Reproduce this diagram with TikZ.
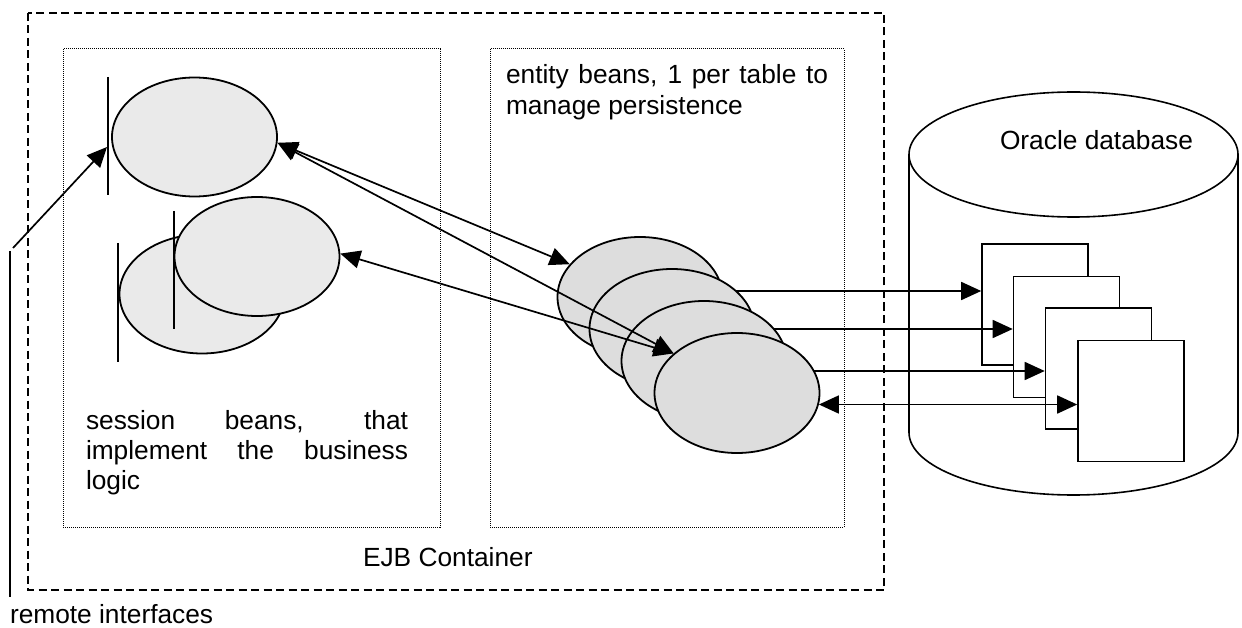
\documentclass[tikz,border=0pt]{standalone}
\usepackage{fontspec}
\setmainfont{Liberation Sans}
\usetikzlibrary{shapes.geometric,arrows.meta}

\definecolor{sessionfill}{HTML}{EAEAEA}
\definecolor{entityfill}{HTML}{DDDDDD}

\begin{document}
\begin{tikzpicture}[x=1pt,y=-1pt,
  lbl/.style={font=\fontsize{26.3}{30}\selectfont, anchor=base west, inner sep=0pt, outer sep=0pt},
  container/.style={draw, line width=1.8pt, dash pattern=on 8pt off 4.5pt},
  panel/.style={draw, line width=1pt, dash pattern=on 1pt off 1pt},
  sbean/.style={ellipse, draw, line width=1.8pt, fill=sessionfill,
                minimum width=165pt, minimum height=119pt, inner sep=0pt},
  ebean/.style={ellipse, draw, line width=1.8pt, fill=entityfill,
                minimum width=165pt, minimum height=120pt, inner sep=0pt},
  tablebox/.style={rectangle, draw, line width=1.6pt, fill=white,
                minimum width=106pt, minimum height=121pt, inner sep=0pt},
  iface/.style={line width=2pt},
  tip/.tip={Triangle[length=20pt,width=18pt]},
  arr/.style={line width=1.7pt, -tip},
  darr/.style={line width=1.7pt, tip-tip}
]
\useasboundingbox (0,0) rectangle (1242,628);

% EJB container and its two panels
\draw[container] (28,13) rectangle (884,590);
\draw[panel] (63,49) rectangle (440,527);
\draw[panel] (490,49) rectangle (844,527);

\node[lbl] (ejb) at (363,566) {EJB Container};

% Oracle database cylinder
\draw[line width=1.6pt] (909,154.5) -- (909,432.5);
\draw[line width=1.6pt] (1238,154.5) -- (1238,432.5);
\begin{scope}
  \clip (900,432.5) rectangle (1242,510);
  \draw[line width=1.6pt] (1073.5,432.5) ellipse [x radius=164.5, y radius=62.5];
\end{scope}
\draw[line width=1.6pt] (1073.5,154.5) ellipse [x radius=164.5, y radius=62.5];
\node[lbl] (oracle) at (1000,150) {Oracle database};

% tables
\node[tablebox] (t1) at (1035,304.5) {};
\node[tablebox] (t2) at (1066.5,337) {};
\node[tablebox] (t3) at (1098.5,368.5) {};
\node[tablebox] (t4) at (1131,401) {};

% session beans
\node[sbean] (s1) at (194.5,137) {};
\coordinate (i1a) at (108,77);
\coordinate (i1b) at (108,195);
\draw[iface] (i1a) -- (i1b);

\node[sbean] (s2) at (202,294) {};
\coordinate (i2a) at (118,243);
\coordinate (i2b) at (118,362);
\draw[iface] (i2a) -- (i2b);

\node[sbean] (s3) at (257,256.5) {};
\coordinate (i3a) at (174,211);
\coordinate (i3b) at (174,329);
\draw[iface] (i3a) -- (i3b);

% remote interface
\coordinate (ra) at (10,251);
\coordinate (rb) at (10,597);
\draw[iface] (ra) -- (rb);
\coordinate (rtail) at (13,248);
\coordinate (i1hit) at (107,147);
\draw[arr] (rtail) -- (i1hit);
\node[lbl] (remote) at (10,623) {remote interfaces};

% entity beans, each with its link to a table
\node[ebean] (e1) at (640,297) {};
\draw[arr] ([yshift=6pt]e1.east) -- ([yshift=6pt]e1.east -| t1.west);
\node[ebean] (e2) at (672,329) {};
\draw[arr] (e2.east) -- (e2.east -| t2.west);
\node[ebean] (e3) at (704,361) {};
\draw[arr] ([yshift=-10pt]e3.east) -- ([yshift=-10pt]e3.east -| t3.west);
\node[ebean] (e4) at (737,393) {};
\draw[darr] (e4.-8.4) -- (e4.-8.4 -| t4.west);

% session <-> entity calls
\draw[darr] (s1.-4) -- (e1.155);
\draw[darr] (s1.-4) -- (e4.148);
\draw[darr] (s3.2) -- (e4.148);

% panel captions
\node[lbl] (st1) at (86,429) {\makebox[322pt][s]{session beans, that}};
\node[lbl] (st2) at (86,459) {\makebox[322pt][s]{implement the business}};
\node[lbl] (st3) at (86,489) {logic};

\node[lbl] (et1) at (506,84) {\makebox[322pt][s]{entity beans, 1 per table to}};
\node[lbl] (et2) at (506,115) {manage persistence};
\end{tikzpicture}
\end{document}
